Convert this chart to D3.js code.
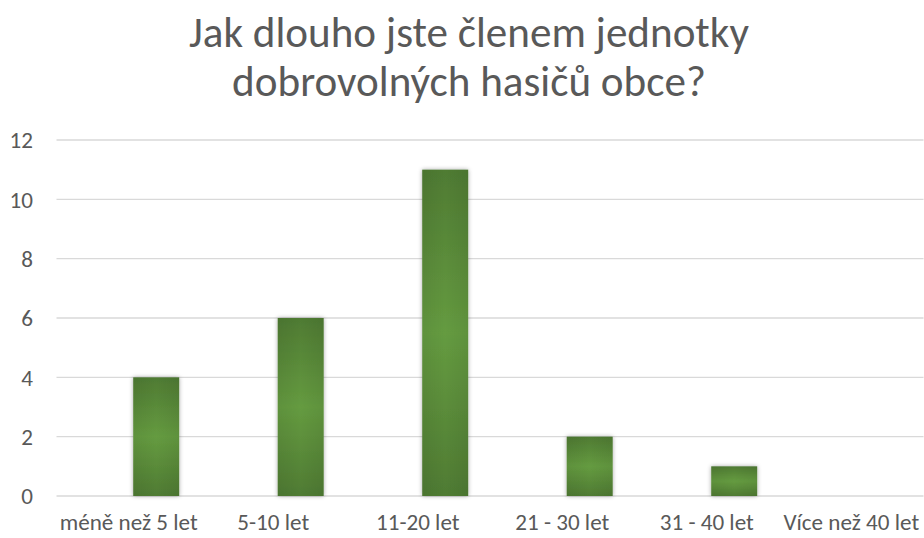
<!DOCTYPE html>
<html><head><meta charset="utf-8">
<script src="https://cdn.jsdelivr.net/npm/d3@7"></script>
<style>html,body{margin:0;padding:0;background:#fff;}svg{display:block;}</style>
</head><body>
<svg id="c" width="924" height="538"></svg>
<script>
const titleLines = ["Jak dlouho jste členem jednotky", "dobrovolných hasičů obce?"];
const categories = ["méně než 5 let", "5-10 let", "11-20 let", "21 - 30 let", "31 - 40 let", "Více než 40 let"];
const values = [4, 6, 11, 2, 1, 0];
const yTicks = [0, 2, 4, 6, 8, 10, 12];

const W = 924, H = 538;
const FONT = "Carlito, Calibri, Lato, 'Open Sans', sans-serif";
const svg = d3.select("#c");

const defs = svg.append("defs");
const g1 = defs.append("linearGradient").attr("id","barg").attr("x1",0).attr("y1",0).attr("x2",0).attr("y2",1);
g1.append("stop").attr("offset","0%").attr("stop-color","#4f7b33");
g1.append("stop").attr("offset","50%").attr("stop-color","#659b40");
g1.append("stop").attr("offset","100%").attr("stop-color","#4f7b33");
const g2 = defs.append("linearGradient").attr("id","barh").attr("x1",0).attr("y1",0).attr("x2",1).attr("y2",0);
g2.append("stop").attr("offset","0%").attr("stop-color","#000").attr("stop-opacity",0.06);
g2.append("stop").attr("offset","50%").attr("stop-color","#000").attr("stop-opacity",0);
g2.append("stop").attr("offset","100%").attr("stop-color","#000").attr("stop-opacity",0.06);
const f = defs.append("filter").attr("id","sh").attr("x","-30%").attr("y","-30%").attr("width","160%").attr("height","160%");
f.append("feDropShadow").attr("dx",0).attr("dy",0).attr("stdDeviation",2.2).attr("flood-color","#000").attr("flood-opacity",0.35);

const x = d3.scaleBand().domain(categories).range([56.5, 923.5]).paddingInner(0).paddingOuter(0);
const y = d3.scaleLinear().domain([0, 12]).range([496, 140]);

// gridlines
svg.append("g").selectAll("line").data(yTicks).join("line")
  .attr("x1", 56.5).attr("x2", 923.5)
  .attr("y1", d => y(d)).attr("y2", d => y(d))
  .attr("stroke", "#d9d9d9").attr("stroke-width", 1.3);

// y tick labels
const yl = svg.append("g").selectAll("text").data(yTicks).join("text")
  .attr("x", 33).attr("y", d => y(d)).attr("dy", "0.36em")
  .attr("text-anchor", "end").attr("fill", "#595959")
  .attr("font-family", FONT).attr("font-size", 20).text(d => d);

// bars
const bw = x.bandwidth();
const barW = bw * 0.318;
const barOff = bw * 0.5 + bw * 0.19 - barW / 2;
const bars = svg.append("g");
const barData = values.map((v,i)=>({v,c:categories[i]})).filter(d=>d.v>0);
bars.selectAll("rect.b").data(barData).join("rect")
  .attr("class","b")
  .attr("x", d => x(d.c) + barOff).attr("width", barW)
  .attr("y", d => y(d.v)).attr("height", d => y(0) - y(d.v))
  .attr("fill", "url(#barg)").attr("filter","url(#sh)");
bars.selectAll("rect.h").data(barData).join("rect")
  .attr("class","h")
  .attr("x", d => x(d.c) + barOff).attr("width", barW)
  .attr("y", d => y(d.v)).attr("height", d => y(0) - y(d.v))
  .attr("fill", "url(#barh)");

// category labels
const cl = svg.append("g").selectAll("text").data(categories).join("text")
  .attr("x", d => x(d) + bw / 2).attr("y", 530)
  .attr("text-anchor", "middle").attr("fill", "#595959")
  .attr("font-family", FONT).attr("font-size", 20).text(d => d);
const firstW = cl.nodes()[0].getComputedTextLength();
const lblSize = 20 * 138 / firstW;
cl.attr("font-size", lblSize);
yl.attr("font-size", lblSize);
cl.each(function(d){
  const w = this.getComputedTextLength();
  const cx = x(d) + bw / 2;
  if (cx + w / 2 > W - 4) d3.select(this).attr("x", W - 4 - w / 2);
});

// title
const tt = svg.append("g").selectAll("text").data(titleLines).join("text")
  .attr("x", 469).attr("y", (d, i) => 47 + i * 49)
  .attr("text-anchor", "middle").attr("fill", "#595959")
  .attr("font-family", FONT).attr("font-size", 36).text(d => d);
const tw = tt.nodes()[0].getComputedTextLength();
tt.attr("font-size", 36 * 560 / tw);
</script>
</body></html>
